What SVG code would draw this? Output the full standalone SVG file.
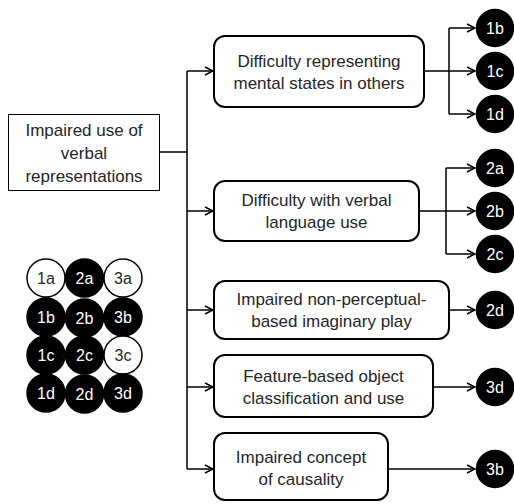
<svg xmlns="http://www.w3.org/2000/svg" width="514" height="504" viewBox="0 0 514 504">
<defs>
<style>
.box{fill:#fff;stroke:#000;stroke-width:2}
.sq{fill:#fff;stroke:#000;stroke-width:1}
.t{font-family:"Liberation Sans",Arial,sans-serif;font-size:17px;fill:#262626;text-anchor:middle}
.c{font-family:"Liberation Sans",Arial,sans-serif;font-size:16px;text-anchor:middle}
.blk{fill:#000;stroke:#000;stroke-width:1.5}
.wht{fill:#fff;stroke:#000;stroke-width:1.5}
.ln{fill:none;stroke:#000;stroke-width:1.5}
</style>
<marker id="ar" viewBox="0 0 10 10" refX="9" refY="5" markerWidth="10" markerHeight="10" markerUnits="userSpaceOnUse" orient="auto">
<path d="M1,1 L9,5 L1,9" fill="none" stroke="#000" stroke-width="1.5"/>
</marker>
</defs>
<rect width="514" height="504" fill="#fff"/>
<g id="connectors">
<path class="ln" d="M160,152 H187 M187,71 V469"/>
<path class="ln" d="M187,71 H213" marker-end="url(#ar)"/>
<path class="ln" d="M187,211 H213" marker-end="url(#ar)"/>
<path class="ln" d="M187,310 H213" marker-end="url(#ar)"/>
<path class="ln" d="M187,387 H213" marker-end="url(#ar)"/>
<path class="ln" d="M187,469 H213" marker-end="url(#ar)"/>
<path class="ln" d="M424,71 H449 M449,28 V114"/>
<path class="ln" d="M449,28 H475" marker-end="url(#ar)"/>
<path class="ln" d="M449,71 H475" marker-end="url(#ar)"/>
<path class="ln" d="M449,114 H475" marker-end="url(#ar)"/>
<path class="ln" d="M419,211 H446 M446,168 V254"/>
<path class="ln" d="M446,168 H475" marker-end="url(#ar)"/>
<path class="ln" d="M446,211 H475" marker-end="url(#ar)"/>
<path class="ln" d="M446,254 H475" marker-end="url(#ar)"/>
<path class="ln" d="M449,310 H475" marker-end="url(#ar)"/>
<path class="ln" d="M433,387 H475" marker-end="url(#ar)"/>
<path class="ln" d="M388,469 H475" marker-end="url(#ar)"/>
</g>
<g id="root">
<rect class="sq" x="8.5" y="114.5" width="151" height="76"/>
<text class="t" x="84" y="136">Impaired use of</text>
<text class="t" x="84" y="159">verbal</text>
<text class="t" x="84" y="182">representations</text>
</g>
<g id="box1">
<rect class="box" x="214" y="36" width="210" height="71" rx="11"/>
<text class="t" x="319" y="67">Difficulty representing</text>
<text class="t" x="319" y="89">mental states in others</text>
</g>
<g id="box2">
<rect class="box" x="214" y="181" width="205" height="60" rx="11"/>
<text class="t" x="316.5" y="206">Difficulty with verbal</text>
<text class="t" x="316.5" y="228">language use</text>
</g>
<g id="box3">
<rect class="box" x="214" y="281" width="235" height="58" rx="11"/>
<text class="t" x="331.5" y="305">Impaired non-perceptual-</text>
<text class="t" x="331.5" y="327">based imaginary play</text>
</g>
<g id="box4">
<rect class="box" x="214" y="355" width="219" height="62" rx="11"/>
<text class="t" x="323.5" y="382">Feature-based object</text>
<text class="t" x="323.5" y="404">classification and use</text>
</g>
<g id="box5">
<rect class="box" x="214" y="433" width="174" height="67" rx="11"/>
<text class="t" x="301" y="463">Impaired concept</text>
<text class="t" x="301" y="485">of causality</text>
</g>
<g id="out-1b"><circle class="blk" cx="495" cy="28" r="18.5"/><text class="c" x="495" y="34" fill="#fff">1b</text></g>
<g id="out-1c"><circle class="blk" cx="495" cy="71" r="18.5"/><text class="c" x="495" y="77" fill="#fff">1c</text></g>
<g id="out-1d"><circle class="blk" cx="495" cy="114" r="18.5"/><text class="c" x="495" y="120" fill="#fff">1d</text></g>
<g id="out-2a"><circle class="blk" cx="495" cy="168" r="18.5"/><text class="c" x="495" y="174" fill="#fff">2a</text></g>
<g id="out-2b"><circle class="blk" cx="495" cy="211" r="18.5"/><text class="c" x="495" y="217" fill="#fff">2b</text></g>
<g id="out-2c"><circle class="blk" cx="495" cy="254" r="18.5"/><text class="c" x="495" y="260" fill="#fff">2c</text></g>
<g id="out-2d"><circle class="blk" cx="495" cy="310" r="18.5"/><text class="c" x="495" y="316" fill="#fff">2d</text></g>
<g id="out-3d"><circle class="blk" cx="495" cy="387" r="18.5"/><text class="c" x="495" y="393" fill="#fff">3d</text></g>
<g id="out-3b"><circle class="blk" cx="495" cy="469" r="18.5"/><text class="c" x="495" y="475" fill="#fff">3b</text></g>
<g id="grid">
<g id="g-1a"><circle class="wht" cx="46" cy="278" r="19"/><text class="c" x="46" y="284" fill="#262626">1a</text></g>
<g id="g-2a"><circle class="blk" cx="84.5" cy="278" r="19"/><text class="c" x="84.5" y="284" fill="#fff">2a</text></g>
<g id="g-3a"><circle class="wht" cx="123" cy="278" r="19"/><text class="c" x="123" y="284" fill="#262626">3a</text></g>
<g id="g-1b"><circle class="blk" cx="46" cy="317" r="19"/><text class="c" x="46" y="323" fill="#fff">1b</text></g>
<g id="g-2b"><circle class="blk" cx="84.5" cy="318" r="19"/><text class="c" x="84.5" y="324" fill="#fff">2b</text></g>
<g id="g-3b"><circle class="blk" cx="123" cy="317" r="19"/><text class="c" x="123" y="323" fill="#fff">3b</text></g>
<g id="g-1c"><circle class="blk" cx="46" cy="355" r="19"/><text class="c" x="46" y="361" fill="#fff">1c</text></g>
<g id="g-2c"><circle class="blk" cx="84.5" cy="355" r="19"/><text class="c" x="84.5" y="361" fill="#fff">2c</text></g>
<g id="g-3c"><circle class="wht" cx="123" cy="355" r="19"/><text class="c" x="123" y="361" fill="#262626">3c</text></g>
<g id="g-1d"><circle class="blk" cx="46" cy="393" r="19"/><text class="c" x="46" y="399" fill="#fff">1d</text></g>
<g id="g-2d"><circle class="blk" cx="84.5" cy="394" r="19"/><text class="c" x="84.5" y="400" fill="#fff">2d</text></g>
<g id="g-3d"><circle class="blk" cx="123" cy="393" r="19"/><text class="c" x="123" y="399" fill="#fff">3d</text></g>
</g>
</svg>
